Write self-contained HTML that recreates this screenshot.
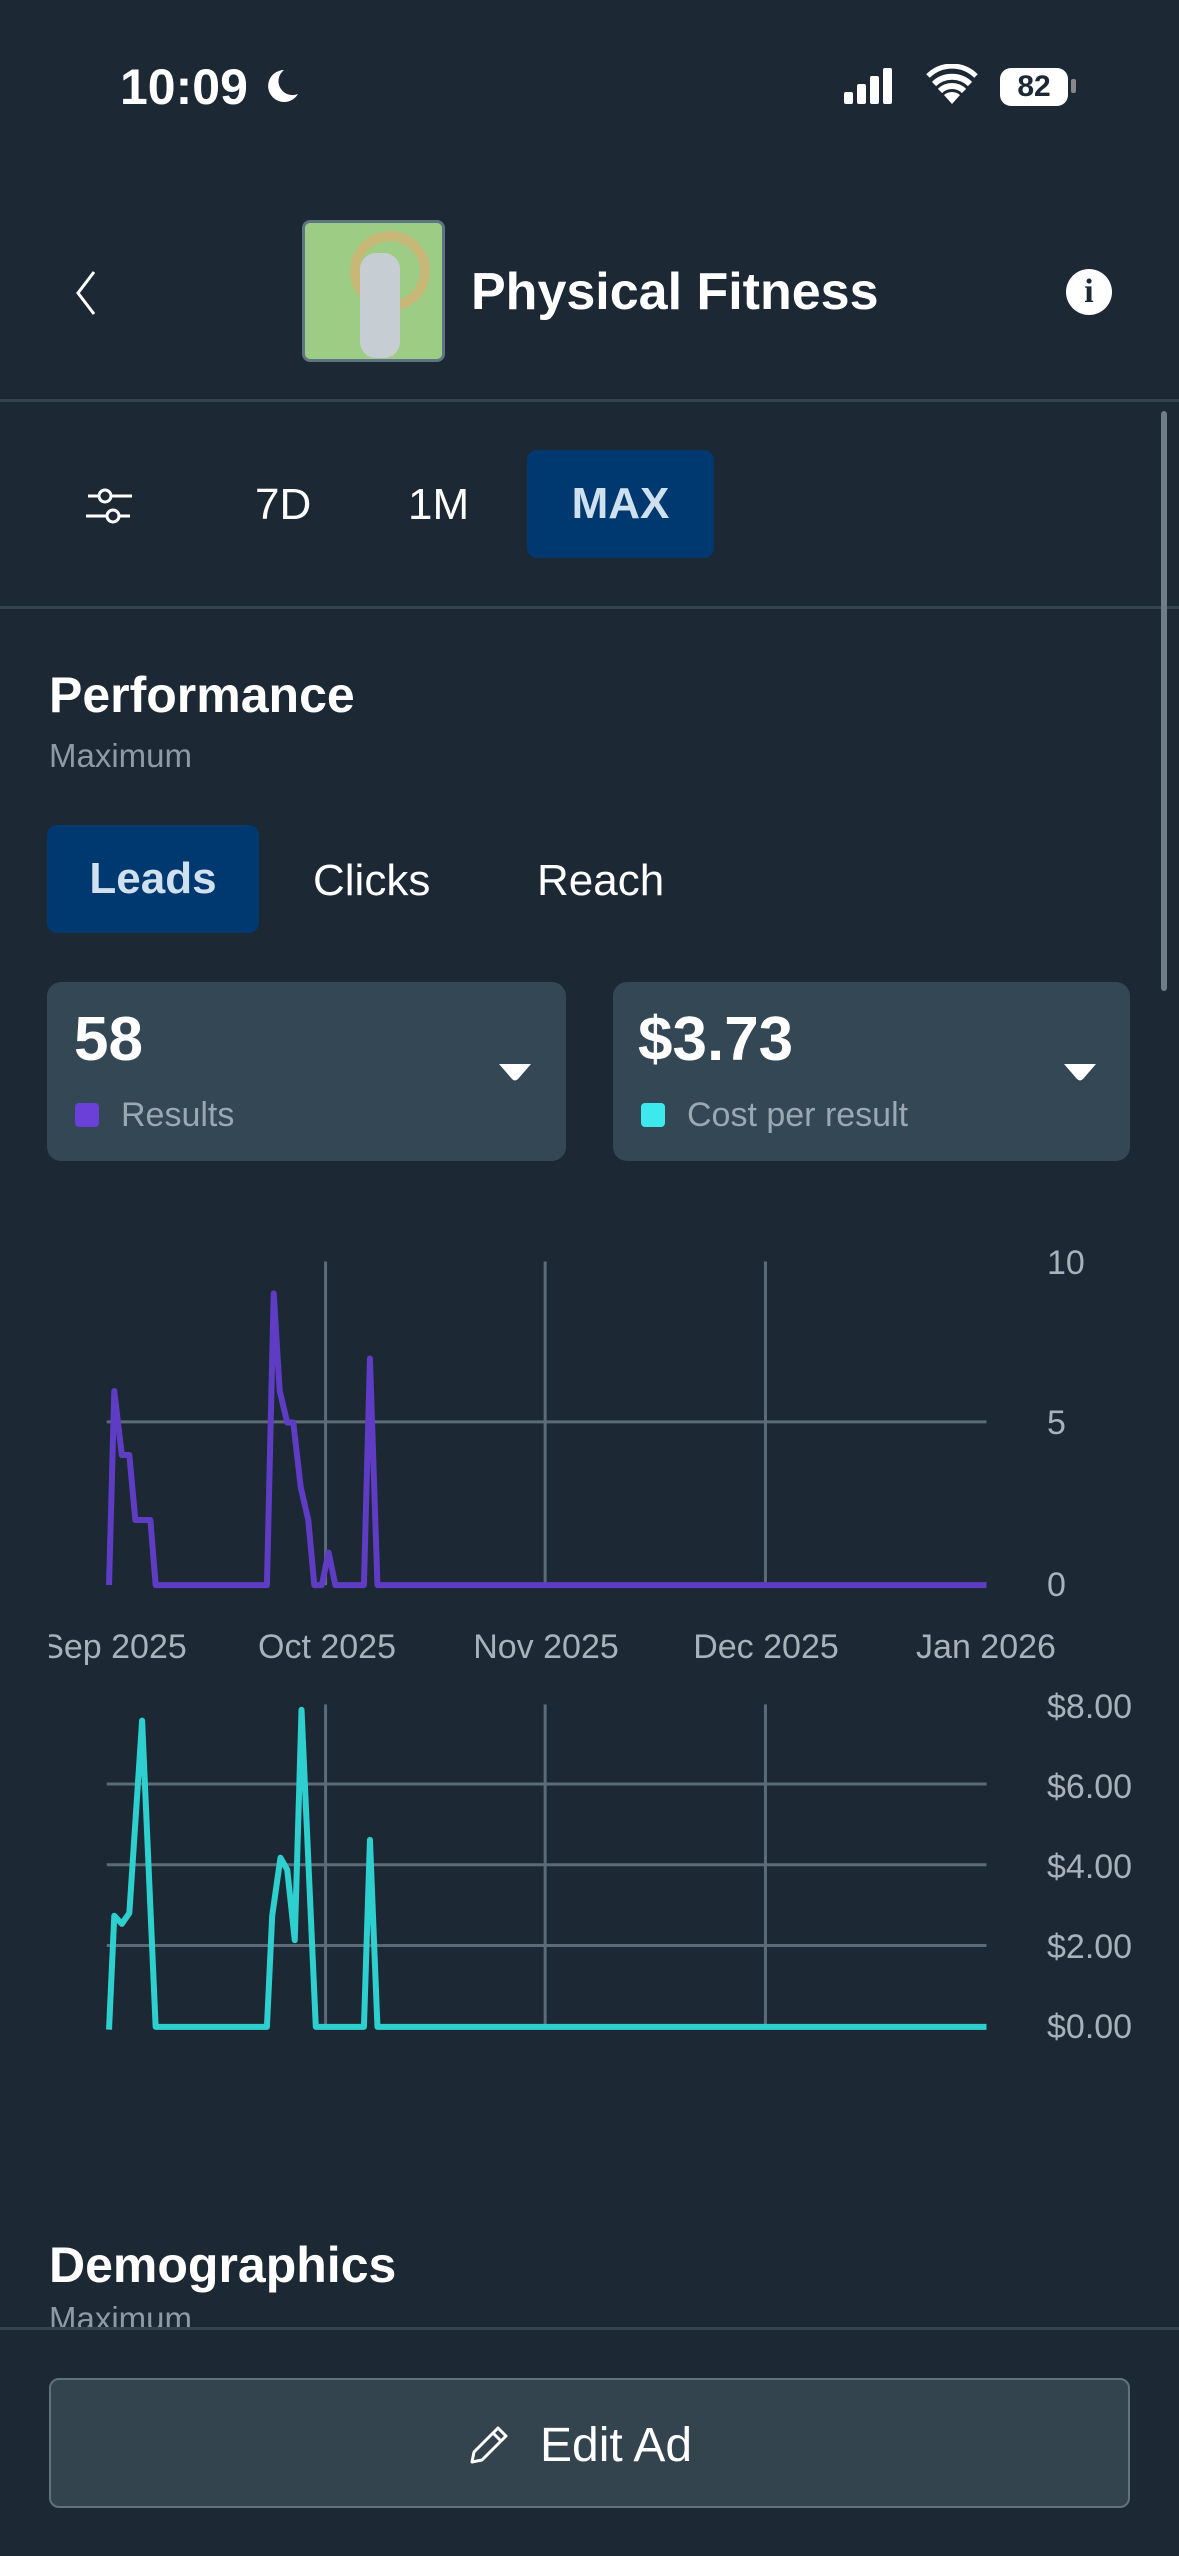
<!DOCTYPE html>
<html><head><meta charset="utf-8"><style>
*{margin:0;padding:0;box-sizing:border-box}
body{width:1179px;height:2556px;background:#1c2833;font-family:"Liberation Sans",sans-serif;color:#fff;position:relative;overflow:hidden}
.a{position:absolute;white-space:nowrap}
.line{position:absolute;left:0;width:1179px;height:3px;background:#34444f}
.yl{position:absolute;left:1047px;font-size:34px;color:#a7b2bb;line-height:34px}
.xl{position:absolute;font-size:34px;color:#a7b2bb;line-height:34px;width:200px;text-align:center}
</style></head><body>
<!-- status bar -->
<div class="a" style="left:120px;top:58px;font-size:50px;font-weight:bold">10:09</div>
<svg class="a" style="left:262px;top:66px" width="40" height="40" viewBox="0 0 40 40"><path d="M22 4 A16 16 0 1 0 36 28 A14 14 0 0 1 22 4Z" fill="#fff"/></svg>
<svg class="a" style="left:844px;top:66px" width="50" height="40"><rect x="0" y="26" width="9" height="12" rx="2" fill="#fff"/><rect x="13" y="18" width="9" height="20" rx="2" fill="#fff"/><rect x="26" y="10" width="9" height="28" rx="2" fill="#fff"/><rect x="39" y="2" width="9" height="36" rx="2" fill="#fff"/></svg>
<svg class="a" style="left:926px;top:64px" width="52" height="42" viewBox="0 0 52 42"><path d="M26 40 L18 31 A12 12 0 0 1 34 31Z" fill="#fff"/><path d="M8 20 A26 26 0 0 1 44 20" stroke="#fff" stroke-width="6" fill="none"/><path d="M2 12 A34 34 0 0 1 50 12" stroke="#fff" stroke-width="5" fill="none"/><path d="M14 27 A17 17 0 0 1 38 27" stroke="#fff" stroke-width="6" fill="none"/></svg>
<div class="a" style="left:1000px;top:68px;width:68px;height:38px;background:#fff;border-radius:11px;color:#1c2833;font-size:30px;font-weight:bold;text-align:center;line-height:38px">82</div>
<div class="a" style="left:1071px;top:79px;width:5px;height:14px;background:#888;border-radius:2px"></div>
<!-- header -->
<svg class="a" style="left:70px;top:268px" width="30" height="50"><path d="M24 4 L8 25 L24 46" stroke="#fff" stroke-width="3" fill="none"/></svg>
<div class="a" style="left:302px;top:220px;width:143px;height:142px;background:#9dcc84;border:3px solid #5e7384;border-radius:8px;overflow:hidden">
<div class="a" style="left:45px;top:8px;width:80px;height:80px;border:10px solid #c8b878;border-radius:50%"></div>
<div class="a" style="left:55px;top:30px;width:40px;height:105px;background:#c6cdd3;border-radius:16px"></div>
</div>
<div class="a" style="left:471px;top:262px;font-size:52px;font-weight:bold">Physical Fitness</div>
<div class="a" style="left:1066px;top:269px;width:46px;height:46px;border-radius:50%;background:#fff;color:#1c2833;font-size:34px;font-weight:bold;text-align:center;line-height:46px;font-family:'Liberation Serif',serif">i</div>
<div class="line" style="top:399px"></div>
<!-- filter row -->
<svg class="a" style="left:84px;top:484px" width="50" height="44"><line x1="4" y1="12" x2="14" y2="12" stroke="#fff" stroke-width="3"/><circle cx="21" cy="12" r="6" stroke="#fff" stroke-width="3" fill="none"/><line x1="28" y1="12" x2="48" y2="12" stroke="#fff" stroke-width="3"/><line x1="2" y1="32" x2="22" y2="32" stroke="#fff" stroke-width="3"/><circle cx="29" cy="32" r="6" stroke="#fff" stroke-width="3" fill="none"/><line x1="36" y1="32" x2="46" y2="32" stroke="#fff" stroke-width="3"/></svg>
<div class="a" style="left:255px;top:480px;font-size:44px">7D</div>
<div class="a" style="left:408px;top:480px;font-size:44px">1M</div>
<div class="a" style="left:527px;top:450px;width:187px;height:108px;background:#003870;border-radius:10px;color:#cfe0ee;font-size:44px;font-weight:bold;text-align:center;line-height:108px">MAX</div>
<div class="line" style="top:606px"></div>
<div class="a" style="left:1161px;top:411px;width:6px;height:580px;background:#6e7d88;border-radius:3px"></div>
<!-- performance -->
<div class="a" style="left:49px;top:666px;font-size:50px;font-weight:bold">Performance</div>
<div class="a" style="left:49px;top:737px;font-size:33px;color:#8d9ba6">Maximum</div>
<div class="a" style="left:47px;top:825px;width:212px;height:108px;background:#003870;border-radius:10px;color:#cfe0ee;font-size:44px;font-weight:bold;text-align:center;line-height:108px">Leads</div>
<div class="a" style="left:313px;top:856px;font-size:44px">Clicks</div>
<div class="a" style="left:537px;top:856px;font-size:44px">Reach</div>
<!-- cards -->
<div class="a" style="left:47px;top:982px;width:519px;height:179px;background:#344754;border-radius:14px"></div>
<div class="a" style="left:613px;top:982px;width:517px;height:179px;background:#344754;border-radius:14px"></div>
<div class="a" style="left:74px;top:1004px;font-size:62px;font-weight:bold">58</div>
<div class="a" style="left:75px;top:1103px;width:24px;height:24px;background:#6a40d8;border-radius:4px"></div>
<div class="a" style="left:121px;top:1096px;font-size:34px;color:#9aa8b3">Results</div>
<div class="a" style="left:638px;top:1004px;font-size:62px;font-weight:bold">$3.73</div>
<div class="a" style="left:641px;top:1103px;width:24px;height:24px;background:#3de9ec;border-radius:4px"></div>
<div class="a" style="left:687px;top:1096px;font-size:34px;color:#9aa8b3">Cost per result</div>
<svg class="a" style="left:497px;top:1062px" width="36" height="20"><path d="M2 2 H34 L21 17 Q18 20 15 17Z" fill="#fff"/></svg>
<svg class="a" style="left:1062px;top:1062px" width="36" height="20"><path d="M2 2 H34 L21 17 Q18 20 15 17Z" fill="#fff"/></svg>
<!-- charts -->
<svg class="a" style="left:0;top:1230px" width="1179" height="850" viewBox="0 0 1568 1568" preserveAspectRatio="none">
<g stroke="#5b6b78" stroke-width="3">
<line vector-effect="non-scaling-stroke" x1="433" y1="58" x2="433" y2="655"/><line vector-effect="non-scaling-stroke" x1="725" y1="58" x2="725" y2="655"/><line vector-effect="non-scaling-stroke" x1="1018" y1="58" x2="1018" y2="655"/>
<line vector-effect="non-scaling-stroke" x1="142" y1="354" x2="1312" y2="354"/>
<line vector-effect="non-scaling-stroke" x1="433" y1="875" x2="433" y2="1470"/><line vector-effect="non-scaling-stroke" x1="725" y1="875" x2="725" y2="1470"/><line vector-effect="non-scaling-stroke" x1="1018" y1="875" x2="1018" y2="1470"/>
<line vector-effect="non-scaling-stroke" x1="142" y1="1022" x2="1312" y2="1022"/><line vector-effect="non-scaling-stroke" x1="142" y1="1171" x2="1312" y2="1171"/><line vector-effect="non-scaling-stroke" x1="142" y1="1320" x2="1312" y2="1320"/>
</g>
<polyline vector-effect="non-scaling-stroke" fill="none" stroke="#5e3cc4" stroke-width="6" stroke-linejoin="round" points="145,655 152,297 162,415 172,415 180,535 200,535 207,655 355,655 364,117 372,297 382,355 390,355 400,475 410,535 418,655 428,655 437,595 446,655 484,655 492,237 502,655 1312,655"/>
<polyline vector-effect="non-scaling-stroke" fill="none" stroke="#2ecfcf" stroke-width="6" stroke-linejoin="round" points="145,1475 152,1265 162,1280 172,1260 189,905 207,1470 355,1470 362,1265 373,1158 382,1180 392,1310 401,885 420,1470 484,1470 492,1125 502,1470 1312,1470"/>
</svg>
<div class="yl" style="top:1246px">10</div>
<div class="yl" style="top:1406px">5</div>
<div class="yl" style="top:1568px">0</div>
<div class="yl" style="top:1690px">$8.00</div>
<div class="yl" style="top:1770px">$6.00</div>
<div class="yl" style="top:1850px">$4.00</div>
<div class="yl" style="top:1930px">$2.00</div>
<div class="yl" style="top:2010px">$0.00</div>
<div class="a" style="left:49px;top:1620px;width:1100px;height:50px;overflow:hidden">
<div class="xl" style="left:-35px;top:10px">Sep 2025</div>
</div>
<div class="xl" style="left:227px;top:1630px">Oct 2025</div>
<div class="xl" style="left:446px;top:1630px">Nov 2025</div>
<div class="xl" style="left:666px;top:1630px">Dec 2025</div>
<div class="xl" style="left:886px;top:1630px">Jan 2026</div>
<!-- demographics -->
<div class="a" style="left:49px;top:2236px;font-size:50px;font-weight:bold">Demographics</div>
<div class="a" style="left:49px;top:2300px;font-size:33px;color:#8d9ba6">Maximum</div>
<div class="a" style="left:0;top:2327px;width:1179px;height:229px;background:#1c2833;border-top:3px solid #34444f"></div>
<div class="a" style="left:49px;top:2378px;width:1081px;height:130px;background:#33444f;border:2px solid #62727d;border-radius:10px"></div>
<svg class="a" style="left:466px;top:2422px" width="46" height="46"><path d="M6 40 L8 30 L32 6 L40 14 L16 38Z M27 11 L35 19" stroke="#fff" stroke-width="3" fill="none" stroke-linejoin="round"/></svg>
<div class="a" style="left:540px;top:2418px;font-size:48px">Edit Ad</div>
</body></html>
